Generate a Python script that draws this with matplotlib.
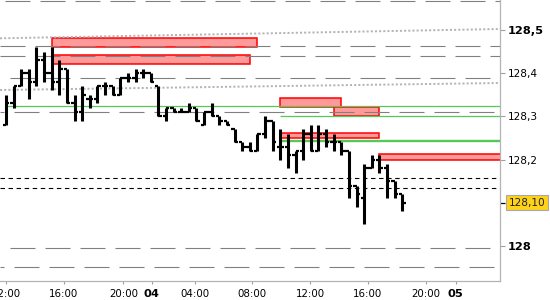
import matplotlib
matplotlib.use("Agg")
import matplotlib.pyplot as plt
from matplotlib.patches import Rectangle
from matplotlib.transforms import blended_transform_factory

plt.rcParams['lines.scale_dashes'] = False
plt.rcParams['font.family'] = ['DejaVu Sans']

# ---- OHLC data (30-min bars) ----
opens = [128.28, 128.33, 128.37, 128.40, 128.38, 128.43, 128.40, 128.38, 128.41, 128.33,
         128.31, 128.34, 128.34, 128.37, 128.37, 128.35, 128.39, 128.39, 128.40, 128.40,
         128.37, 128.30, 128.32, 128.31, 128.31, 128.32, 128.28, 128.31, 128.30, 128.29,
         128.27, 128.24, 128.23, 128.22, 128.26, 128.29, 128.23, 128.23, 128.21, 128.22,
         128.26, 128.22, 128.26, 128.24, 128.24, 128.22, 128.14, 128.11, 128.18, 128.20,
         128.18, 128.15, 128.12]
highs = [128.35, 128.37, 128.41, 128.41, 128.46, 128.45, 128.46, 128.43, 128.41, 128.35,
         128.37, 128.35, 128.37, 128.38, 128.37, 128.39, 128.40, 128.41, 128.41, 128.40,
         128.37, 128.32, 128.32, 128.32, 128.33, 128.32, 128.31, 128.33, 128.30, 128.29,
         128.27, 128.24, 128.24, 128.26, 128.30, 128.29, 128.27, 128.26, 128.22, 128.27,
         128.28, 128.28, 128.27, 128.26, 128.24, 128.22, 128.14, 128.19, 128.21, 128.21,
         128.19, 128.15, 128.12]
lows = [128.28, 128.32, 128.37, 128.34, 128.37, 128.38, 128.36, 128.35, 128.33, 128.29,
        128.29, 128.32, 128.33, 128.35, 128.35, 128.35, 128.38, 128.38, 128.39, 128.38,
        128.30, 128.29, 128.31, 128.31, 128.31, 128.29, 128.28, 128.30, 128.28, 128.28,
        128.24, 128.22, 128.22, 128.22, 128.25, 128.22, 128.20, 128.18, 128.17, 128.20,
        128.22, 128.22, 128.23, 128.22, 128.21, 128.11, 128.09, 128.05, 128.18, 128.17,
        128.11, 128.11, 128.08]
closes = [128.33, 128.37, 128.40, 128.38, 128.43, 128.40, 128.38, 128.41, 128.33, 128.31,
          128.35, 128.34, 128.37, 128.37, 128.35, 128.39, 128.39, 128.40, 128.40, 128.38,
          128.30, 128.32, 128.31, 128.31, 128.32, 128.29, 128.31, 128.30, 128.29, 128.28,
          128.24, 128.23, 128.22, 128.26, 128.29, 128.24, 128.23, 128.21, 128.22, 128.26,
          128.22, 128.26, 128.24, 128.24, 128.22, 128.14, 128.12, 128.18, 128.20, 128.18,
          128.15, 128.12, 128.10]

# ---- x axis labels ----
xtick_labels = ['12:00', '16:00', '20:00', '04', '04:00', '08:00', '12:00', '16:00', '20:00', '05']
xtick_pos = [0, 7.61, 15.4, 19.1, 24.8, 32.3, 39.9, 47.5, 55.1, 59.0]
bold_xlabels = ['04', '05']

# ---- y axis ----
ytick_values = [128.0, 128.2, 128.3, 128.4, 128.5]
ytick_labels = ['128', '128,2', '128,3', '128,4', '128,5']
bold_ylabels = ['128', '128,5']
last_price_label = '128,10'

# ---- horizontal levels ----
gray_levels = [128.567, 128.463, 128.440, 128.389, 128.310, 127.995, 127.951]
gray_dash_start_px = [5, 0, 0, 10, 14, 10, 14]
black_levels = [128.1585, 128.134]
green_levels = [128.325, 128.301, 128.243]
green_start = [0, 36, 36]
green_width = [1.0, 1.0, 2.0]

# ---- trend lines (dotted) ----
trend_x = [0, 60]
trend1 = [128.4810, 128.5007]
trend2 = [128.3613, 128.3761]

# ---- zones (rectangles) ----
zone_start = [6, 6, 36, 43, 36, 49]
zone_end = [33, 32, 44, 49, 49, 70]
zone_low = [128.461, 128.422, 128.321, 128.301, 128.251, 128.198]
zone_high = [128.481, 128.442, 128.343, 128.322, 128.262, 128.212]

fig = plt.figure(figsize=(5.5, 3.0), dpi=100)
ax = fig.add_axes([0, 19 / 300, 500 / 550, 281 / 300])
ax.set_xlim(-0.787, 64.83)
ax.set_ylim(127.919, 128.5694)

# zones
for s, e, lo, hi in zip(zone_start, zone_end, zone_low, zone_high):
    ax.add_patch(Rectangle((s, lo), e - s, hi - lo, facecolor='#FF9A9A',
                           edgecolor='#FF0000', linewidth=1.1, zorder=1))

# gray dashed levels
px = 0.72  # points per pixel
for lvl, s in zip(gray_levels, gray_dash_start_px):
    off = ((35 - s) % 35) * px
    ax.axhline(lvl, color='#808080', linewidth=0.8,
               linestyle=(off, (25 * px, 10 * px)), zorder=2)

# dotted trend lines
for tr in (trend1, trend2):
    ax.axline((trend_x[0], tr[0]), (trend_x[1], tr[1]), color='#B4B4B4',
              linewidth=1.4, linestyle=(0, (1.5, 1.5)), zorder=2)

# black dashed levels
for lvl in black_levels:
    ax.axhline(lvl, color='black', linewidth=0.8, linestyle=(0, (3.2, 2.6)), zorder=2)

# green levels
for lvl, s, w in zip(green_levels, green_start, green_width):
    ax.hlines(lvl, s, 70, color='#55C855', linewidth=w * 0.8 + 0.1, zorder=2)

# OHLC bars
idx = list(range(len(opens)))
tl = 0.45
ax.vlines(idx, lows, highs, color='black', linewidth=2.2, zorder=4)
ax.hlines(opens, [i - tl for i in idx], idx, color='black', linewidth=1.6, zorder=4)
ax.hlines(closes, idx, [i + tl for i in idx], color='black', linewidth=1.6, zorder=4)

# spines
for sp in ['top', 'left']:
    ax.spines[sp].set_visible(False)
for sp in ['right', 'bottom']:
    ax.spines[sp].set_color('#B4B4B4')
    ax.spines[sp].set_linewidth(0.9)

# y axis right
ax.yaxis.tick_right()
ax.set_yticks(ytick_values)
ax.set_yticklabels(ytick_labels)
ax.tick_params(axis='y', which='major', direction='out', length=3.6, width=0.8,
               color='#A0A0A0', pad=2.2, labelsize=7.6, labelcolor='black')
for t in ax.get_yticklabels():
    if t.get_text() in bold_ylabels:
        t.set_fontweight('bold')
        t.set_fontsize(8.2)
ax.set_yticks([closes[-1]], minor=True)
ax.tick_params(axis='y', which='minor', direction='out', length=3.6, width=0.9, color='black')

# last price box
trans = blended_transform_factory(ax.transAxes, ax.transData)
ax.text(1.018, closes[-1], last_price_label, transform=trans, ha='left', va='center',
        fontsize=7.6, color='#222222', clip_on=False,
        bbox=dict(boxstyle='square,pad=0.25', facecolor='#FFD21A', edgecolor='#A8A8A8',
                  linewidth=0.8))

# x axis
ax.set_xticks(xtick_pos)
ax.set_xticklabels(xtick_labels)
ax.tick_params(axis='x', direction='out', length=2.5, width=0.8, color='#A0A0A0',
               pad=3, labelsize=7.4)
for t in ax.get_xticklabels():
    if t.get_text() in bold_xlabels:
        t.set_fontweight('bold')
        t.set_fontsize(8.2)

fig.savefig('out.png', dpi=100)
